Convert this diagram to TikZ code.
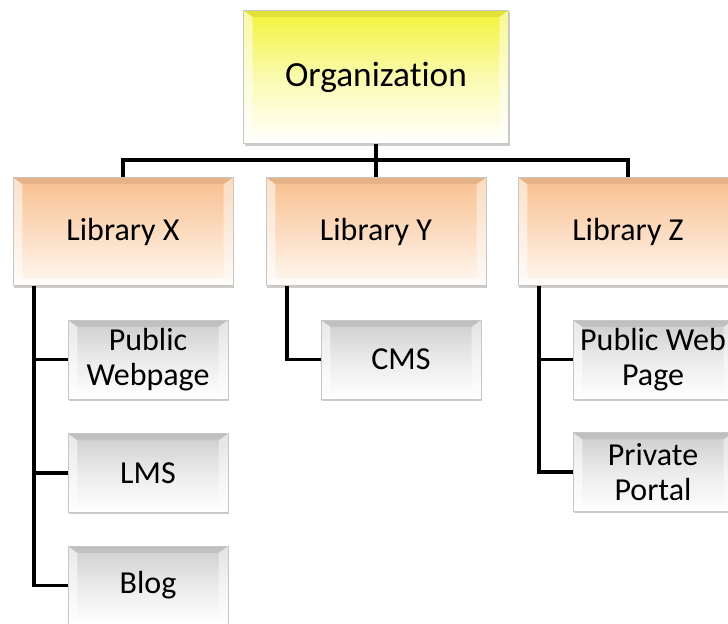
\documentclass[tikz,border=0pt]{standalone}
\usepackage{fontspec}
\setmainfont{Carlito}[Ligatures=NoCommon]
\usetikzlibrary{shadows}
\definecolor{orgyellow}{HTML}{F3F338}
\definecolor{libpeach}{HTML}{F8BF8E}
\definecolor{libcream}{HTML}{FFF8F2}
\definecolor{itemgray}{HTML}{CDCDCD}
\tikzset{%
    bevel/.style={%
        path picture={%
            \fill[white,opacity=.55] (path picture bounding box.south west) -- (path picture bounding box.north west)
                -- ([shift={(#1,-5pt)}]path picture bounding box.north west) -- ([shift={(#1,5pt)}]path picture bounding box.south west) -- cycle;
            \fill[white,opacity=.45] (path picture bounding box.south east) -- (path picture bounding box.north east)
                -- ([shift={(-#1,-5pt)}]path picture bounding box.north east) -- ([shift={(-#1,5pt)}]path picture bounding box.south east) -- cycle;
            \fill[white,opacity=.7] (path picture bounding box.south west) -- (path picture bounding box.south east)
                -- ([shift={(-#1,5pt)}]path picture bounding box.south east) -- ([shift={(#1,5pt)}]path picture bounding box.south west) -- cycle;
            \fill[black,opacity=.07] (path picture bounding box.north west) -- (path picture bounding box.north east)
                -- ([shift={(-#1,-5pt)}]path picture bounding box.north east) -- ([shift={(#1,-5pt)}]path picture bounding box.north west) -- cycle;
        }
    },
    boxbase/.style={%
        rectangle, draw=black!22, thin, align=center, inner sep=0pt,
        drop shadow={shadow xshift=1pt, shadow yshift=-1.5pt, opacity=.4},
        font=\fontsize{24}{26}\selectfont, bevel=7pt
    },
    orgbox/.style={boxbase, minimum width=199pt, minimum height=100pt,
        top color=orgyellow, bottom color=white, middle color=orgyellow!40,
        font=\fontsize{26.5}{28}\selectfont},
    libbox/.style={boxbase, minimum width=165pt, minimum height=81pt,
        top color=libpeach, bottom color=libcream, middle color=libpeach!50!libcream},
    itembox/.style={boxbase, minimum width=120pt, minimum height=59pt,
        top color=itemgray, bottom color=white, middle color=itemgray!40},
    link/.style={line width=2.8pt, black}
}

\begin{document}
\begin{tikzpicture}[x=0.75pt,y=-0.75pt]
    \fill[white] (0,0) rectangle (728,624);
    \useasboundingbox (0,0) rectangle (728,624);
    \clip (0,0) rectangle (728,624);

    \node[orgbox] (org) at (376,77) {Organization};

    \node[libbox] (libX) at (123,231.5) {Library X};
    \node[libbox] (libY) at (376,231.5) {Library Y};
    \node[libbox] (libZ) at (628,231.5) {Library Z};

    \node[itembox] (pubX) at (148,359.5) {Public\\Webpage};
    \node[itembox] (lmsX) at (148,473) {LMS};
    \node[itembox] (blogX) at (148,585.5) {Blog};
    \node[itembox] (cms) at (401,359.5) {CMS};
    \node[itembox] (pubZ) at (653,359.5) {Public Web\\Page};
    \node[itembox] (portZ) at (653,472) {Private\\Portal};

    % top level bus
    \coordinate (bus) at (376,160);
    \draw[link] (libX.north) |- (bus) -| (libZ.north);
    \draw[link] (org.south) -- (libY.north);

    % branches down to the items
    \foreach \lib/\items in {libX/{pubX,lmsX,blogX}, libY/{cms}, libZ/{pubZ,portZ}}
        \foreach \item in \items
            \draw[link] ([xshift=16pt]\lib.south west) |- (\item.west);
\end{tikzpicture}
\end{document}
